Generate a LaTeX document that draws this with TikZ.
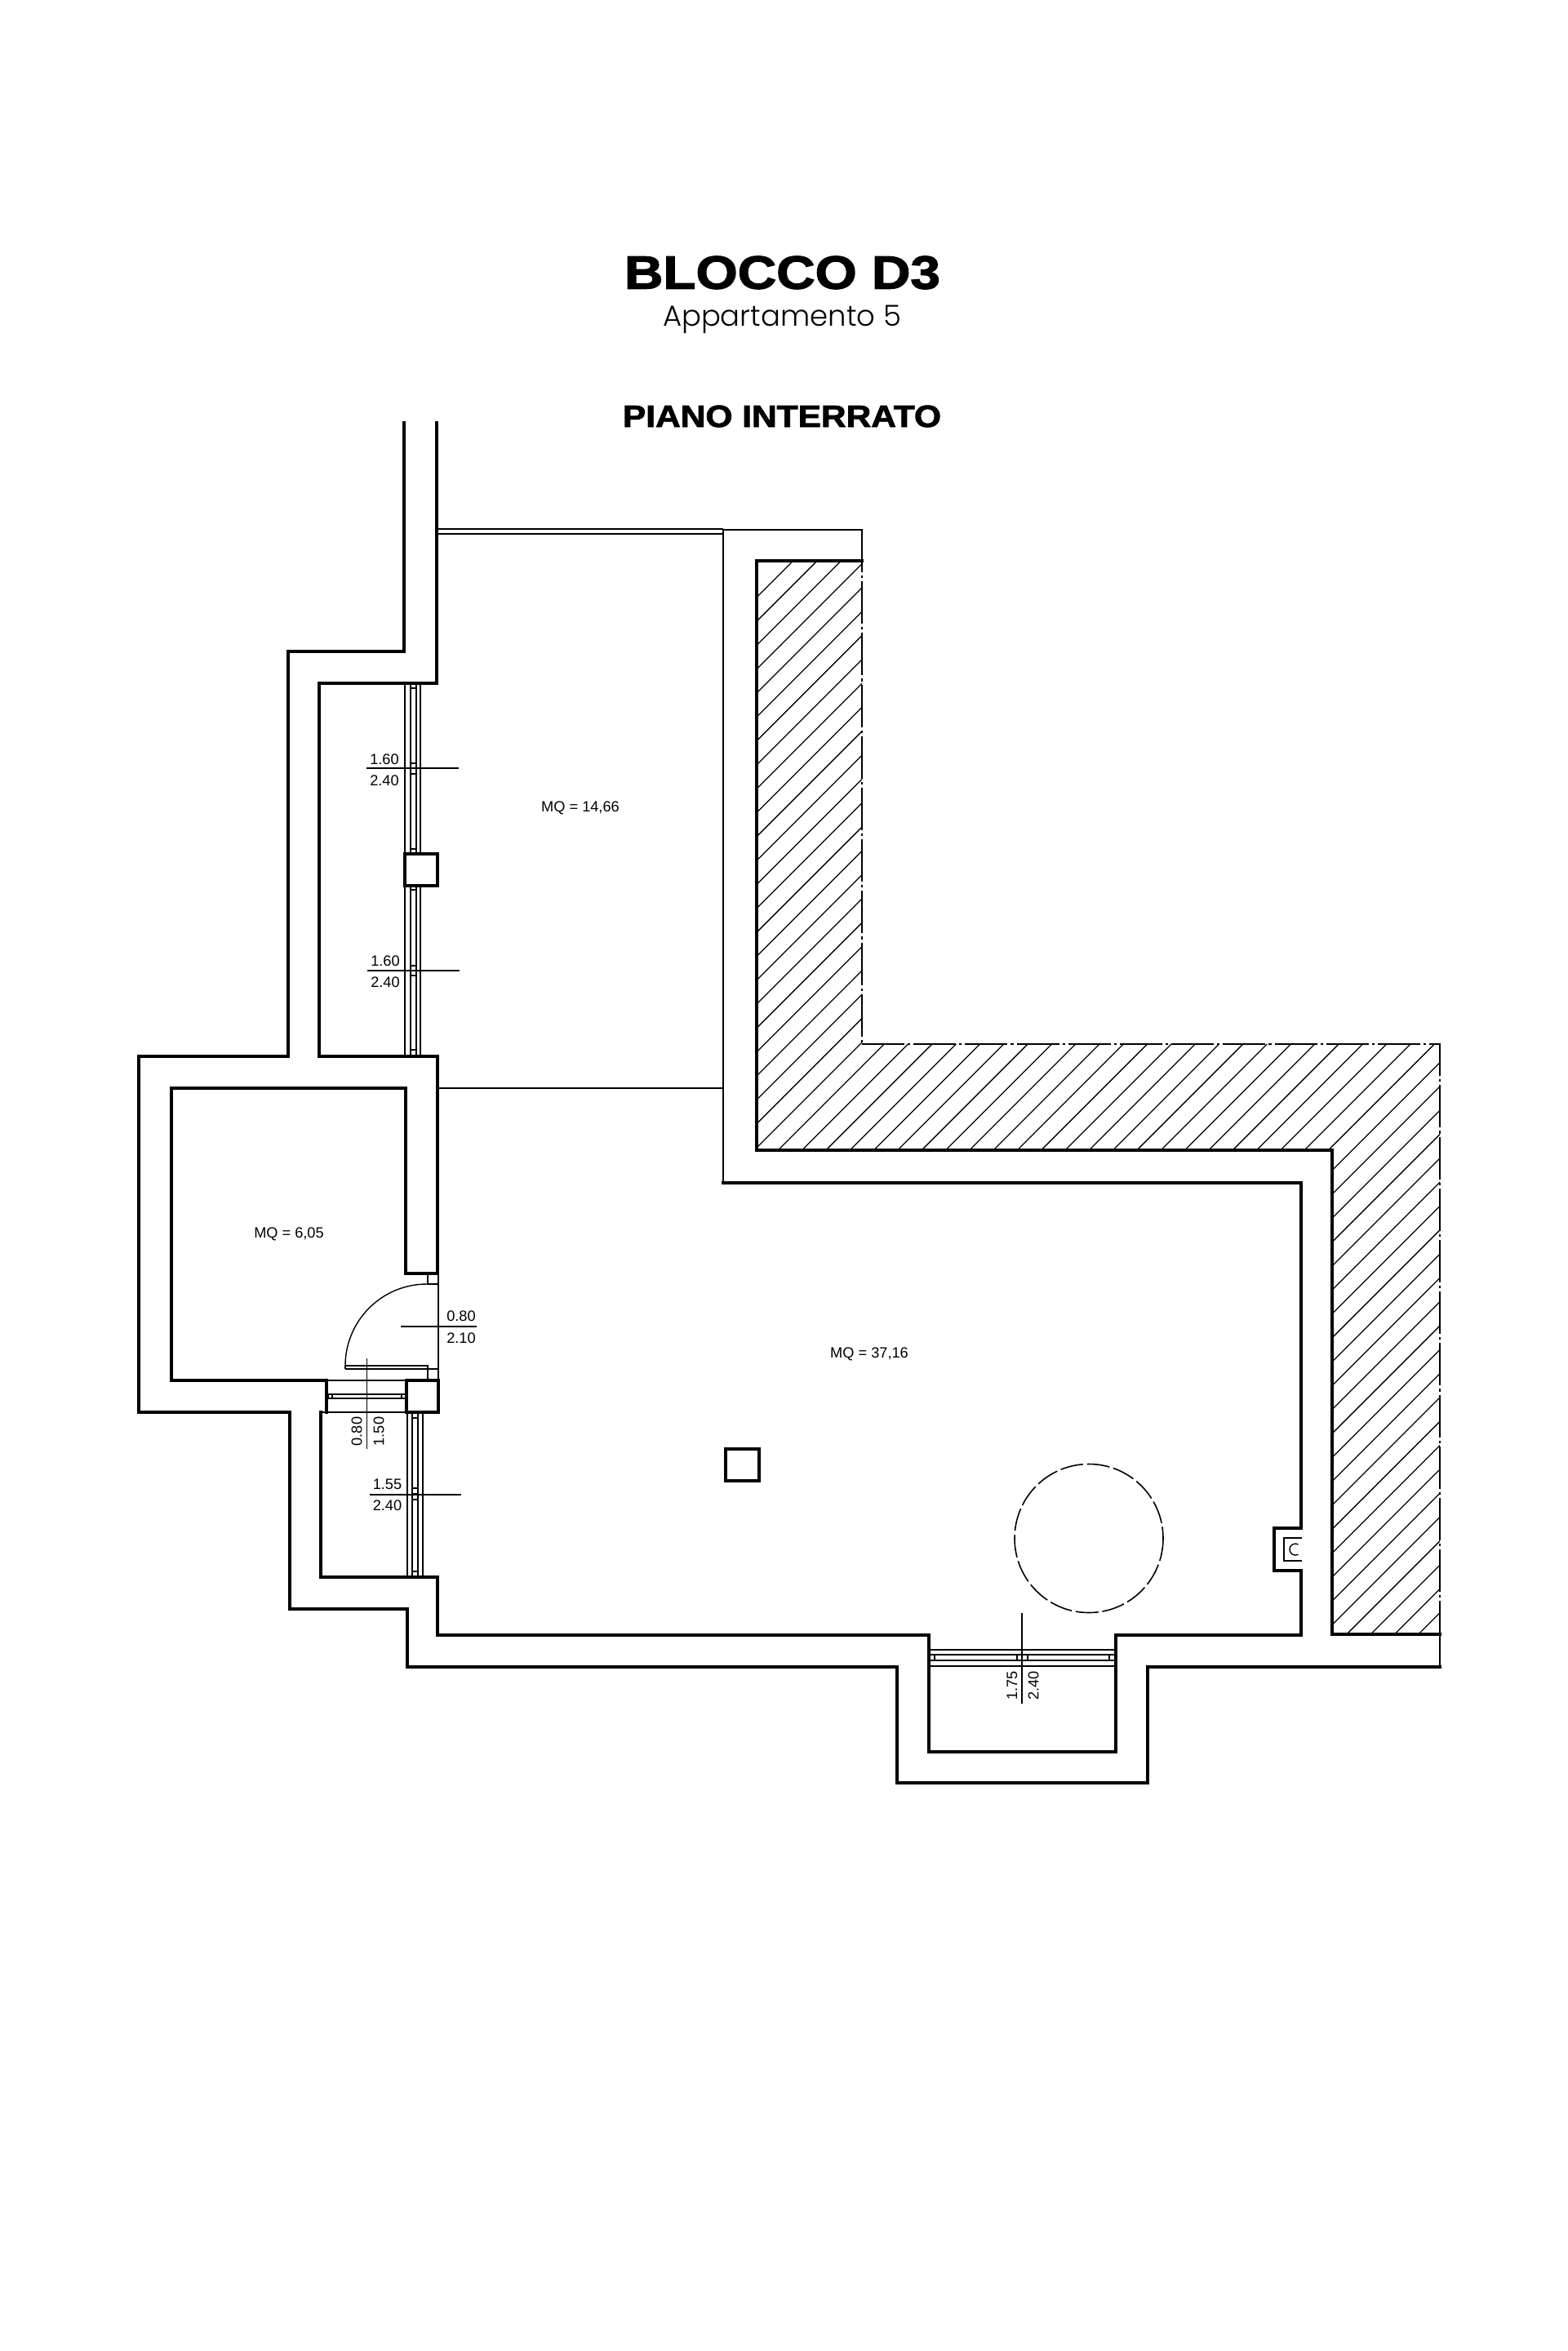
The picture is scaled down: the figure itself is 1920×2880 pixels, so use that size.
\documentclass[tikz,border=0pt]{standalone}
\usepackage{graphicx}
\usepackage{fontspec}
\setmainfont{Liberation Sans}
\newfontfamily\ttlfont[FakeBold=2]{Liberation Sans Bold}
\newfontfamily\subfont{Poppins Light}
\tikzset{
  wall/.style={line width=0.85pt,line cap=rect,line join=miter},
  midwall/.style={line width=0.7pt,line cap=rect,line join=miter},
  glass/.style={line width=0.3pt},
  hair/.style={line width=0.35pt},
  hatchline/.style={line width=0.32pt},
  boundary/.style={line width=0.6pt,dash pattern=on 13pt off 1pt on 0.8pt off 1pt},
  dimline/.style={line width=0.35pt},
  dimtext/.style={inner sep=0pt,font=\fontsize{4.55}{5}\selectfont},
}
\begin{document}
\begin{tikzpicture}[x=0.25pt,y=-0.25pt]
\useasboundingbox (0,0) rectangle (1920,2880);
\fill[white] (0,0) rectangle (1920,2880);
% hatching
\begin{scope}
\clip (927,687) -- (1056,687) -- (1056,1279) -- (1764,1279) -- (1764,2002) -- (1632,2002) -- (1632,1409) -- (927,1409) -- cycle;
\foreach \k in {-3,...,72} {
  \pgfmathsetmacro{\c}{1746.7+\k*29.31}
  \draw[hatchline] ({\c-600},600) -- ({\c-2100},2100);
}
\end{scope}
% outer contour
\draw[wall] (495,518) -- (495,798) -- (353,798) -- (353,1294) -- (170,1294) -- (170,1730) -- (355,1730) -- (355,1971) -- (499,1971) -- (499,2042) -- (1099,2042) -- (1099,2184) -- (1406,2184) -- (1406,2042) -- (1764,2042);
\draw[midwall,line width=0.5pt] (1764,2042) -- (1764,2002);
% inner contours
\draw[wall] (535,518) -- (535,837) -- (391,837) -- (391,1294) -- (536,1294) -- (536,1560) -- (497,1560) -- (497,1333) -- (210,1333) -- (210,1691) -- (400,1691);
\draw[wall] (400,1691) -- (400,1730);
\draw[wall] (393,1730) -- (393,1932) -- (536,1932) -- (536,2003) -- (1138,2003) -- (1138,2146) -- (1367,2146) -- (1367,2003) -- (1594,2003) -- (1594,1924) -- (1561,1924) -- (1561,1872) -- (1594,1872) -- (1594,1449) -- (886,1449);
\draw[midwall] (886,1449) -- (886,649) -- (1056,649);
\draw[wall] (1056,687) -- (927,687) -- (927,1409) -- (1632,1409) -- (1632,2002) -- (1764,2002);
% hatched area boundary
\draw[boundary] (1056,649) -- (1056,1279);
\draw[boundary] (1056,1279) -- (1764,1279) -- (1764,2002);
% gate lines
\draw[hair] (536,648) -- (886,648);
\draw[hair] (536,654) -- (886,654);
\draw[hair] (537,1333) -- (886,1333);
% pillars
\draw[wall] (496,1046) rectangle (536,1085);
\draw[wall] (498,1691) rectangle (537,1730);
\draw[wall] (889,1775) rectangle (930,1814);
% upper windows
\draw[hair] (496,837) -- (496,1046);
\draw[hair] (515,837) -- (515,1046);
\draw[hair] (496,1085) -- (496,1293);
\draw[hair] (515,1085) -- (515,1293);
\draw[glass] (503,843) rectangle (510,935);
\draw[glass] (503,935) rectangle (510,948);
\draw[glass] (503,948) rectangle (510,1040);
\draw[glass] (503,1040) rectangle (510,1046);
\draw[glass] (503,1085) rectangle (510,1090);
\draw[glass] (503,1090) rectangle (510,1183);
\draw[glass] (503,1183) rectangle (510,1195);
\draw[glass] (503,1195) rectangle (510,1286);
\draw[glass] (503,1286) rectangle (510,1293);
\draw[glass] (503,837) rectangle (510,843);
% lower window
\draw[hair] (499,1730) -- (499,1932);
\draw[hair] (518,1730) -- (518,1932);
\draw[glass] (505,1730) rectangle (512,1737);
\draw[glass] (505,1737) rectangle (512,1823);
\draw[glass] (505,1823) rectangle (512,1830);
\draw[glass] (505,1831) rectangle (512,1837);
\draw[glass] (505,1837) rectangle (512,1925);
\draw[glass] (505,1925) rectangle (512,1932);
% short window
\draw[hair] (400,1691) -- (498,1691);
\draw[hair] (393,1730) -- (498,1730);
\draw[glass] (402,1708) rectangle (407,1713);
\draw[glass] (407,1708) rectangle (492,1713);
\draw[glass] (492,1708) rectangle (497,1713);
% bottom window
\draw[hair] (1138,2021) -- (1367,2021);
\draw[hair] (1138,2041) -- (1367,2041);
\draw[glass] (1139,2027) rectangle (1145,2034);
\draw[glass] (1145,2027) rectangle (1246,2034);
\draw[glass] (1246,2027) rectangle (1252,2034);
\draw[glass] (1252,2027) rectangle (1259,2034);
\draw[glass] (1259,2027) rectangle (1359,2034);
\draw[glass] (1359,2027) rectangle (1366,2034);
% door
\draw[hair] (537,1560) -- (537,1691);
\draw[hair] (524,1561) -- (524,1573) -- (537,1573);
\draw[hair] (423,1673) arc[start angle=180,end angle=270,radius=100];
\draw[line width=0.4pt] (423,1677) -- (423,1673) -- (524,1673) -- (524,1691);
\draw[hair] (423,1677) -- (537,1677);
% shaft
\draw[line width=0.7pt,line join=miter] (1595,1884) -- (1573,1884) -- (1573,1912) -- (1595,1912);
\draw[hair] (1590.5,1892) arc[start angle=300,end angle=60,radius=7];
% dashed circle
\draw[line width=0.4pt,dash pattern=on 7pt off 1.2pt] (1334,1884.5) circle[radius=91];
% dimension lines
\draw[dimline] (449,941) -- (562,941);
\draw[dimline] (450,1189) -- (563,1189);
\draw[dimline] (491,1625) -- (584,1625);
\draw[dimline] (449.5,1664) -- (449.5,1775);
\draw[dimline] (452.5,1831) -- (565,1831);
\draw[dimline] (1252,1976) -- (1252,2087);
% labels
\node[inner sep=0pt] (title) at (958.5,334) {\resizebox{96.75pt}{10pt}{\ttlfont BLOCCO D3}};
\node[inner sep=0pt] (sub) at (958,391) {\resizebox{73pt}{!}{\subfont Appartamento 5}};
\node[inner sep=0pt] (floor) at (958,510) {\resizebox{97.5pt}{6.6pt}{\ttlfont PIANO INTERRATO}};
\node[dimtext] (a1) at (711,990) {MQ = 14,66};
\node[dimtext] (a2) at (354,1512) {MQ = 6,05};
\node[dimtext] (a3) at (1065,1659) {MQ = 37,16};
\node[dimtext] (w1a) at (471,930) {1.60};
\node[dimtext] (w1b) at (471,956) {2.40};
\node[dimtext] (w2a) at (472,1177) {1.60};
\node[dimtext] (w2b) at (472,1203) {2.40};
\node[dimtext] (d1a) at (565,1612) {0.80};
\node[dimtext] (d1b) at (565,1639) {2.10};
\node[dimtext,rotate=90] (w3a) at (437,1753.5) {0.80};
\node[dimtext,rotate=90] (w3b) at (464,1753.5) {1.50};
\node[dimtext] (w4a) at (474.5,1818) {1.55};
\node[dimtext] (w4b) at (474.5,1844) {2.40};
\node[dimtext,rotate=90] (w5a) at (1240,2065) {1.75};
\node[dimtext,rotate=90] (w5b) at (1266,2065) {2.40};
\end{tikzpicture}
\end{document}
